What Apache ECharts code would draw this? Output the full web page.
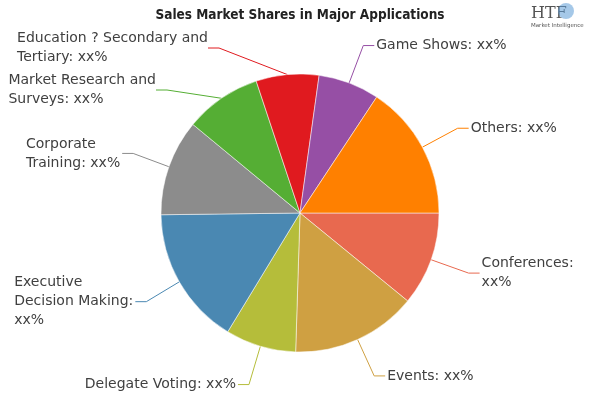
<!DOCTYPE html>
<html><head><meta charset="utf-8">
<script src="https://cdn.jsdelivr.net/npm/echarts@6/dist/echarts.min.js"></script>
<style>html,body{margin:0;padding:0;background:#fff}#c{width:600px;height:400px}</style>
</head><body><div id="c"></div>
<script>
const categories = ["Conferences","Events","Delegate Voting","Executive Decision Making","Corporate Training","Market Research and Surveys","Education ? Secondary and Tertiary","Game Shows","Others"];
const labelTexts = ["Conferences:\nxx%","Events: xx%","Delegate Voting: xx%","Executive\nDecision Making:\nxx%","Corporate\nTraining: xx%","Market Research and\nSurveys: xx%","Education ? Secondary and\nTertiary: xx%","Game Shows: xx%","Others: xx%"];
const values = [10.9,14.6,8.2,16.1,11.2,8.9,7.3,7.1,15.7];
const colors = ["#e8694f","#cfa042","#b5bd3a","#4a88b2","#8c8c8c","#55ae34","#e01a1f","#964fa5","#ff8000"];
// manual label placement (label anchor, right-middle) for the two crowded top-left labels
const labelPlacement = {5:{x:156,y:90}, 6:{x:208,y:48}};

const chart = echarts.init(document.getElementById('c'));
chart.setOption({
  animation:false,
  title:{text:"Sales Market Shares in Major Applications",left:'center',top:3,
    textStyle:{fontFamily:"DejaVu Sans Condensed",fontWeight:'bold',fontSize:13.5,color:'#222'}},
  graphic:[
    {type:'text',left:531,top:6,style:{text:'HTF',font:'16px "DejaVu Serif"',fill:'#555'}},
    {type:'circle',shape:{cx:566,cy:11,r:8},style:{fill:'#5b9bd5',opacity:0.55}},
    {type:'text',left:531,top:23,style:{text:'Market Intelligence',font:'5.5px "DejaVu Sans"',fill:'#555'}}
  ],
  series:[{
    type:'pie',
    center:[300,213],
    radius:139,
    startAngle:0,
    clockwise:true,
    itemStyle:{borderColor:'#fff',borderWidth:0.5},
    label:{color:'#404040',fontFamily:'DejaVu Sans',fontSize:14,lineHeight:19,distanceToLabelLine:2,
      formatter:p=>labelTexts[p.dataIndex].split('\n').map(s=>'{a|'+s+'}').join('\n'),
      rich:{a:{align:'left',fontFamily:'DejaVu Sans',fontSize:14,lineHeight:19,color:'#404040'}}},
    labelLine:{length:40,length2:11,smooth:false,lineStyle:{width:1}},
    labelLayout:function(p){
      const pl = labelPlacement[p.dataIndex];
      if(!pl) return {};
      return {x:pl.x, y:pl.y, align:'right', verticalAlign:'middle'};
    },
    data:categories.map((n,i)=>({name:n,value:values[i],itemStyle:{color:colors[i]},labelLine:{lineStyle:{color:colors[i]}}}))
  }]
});
</script></body></html>
